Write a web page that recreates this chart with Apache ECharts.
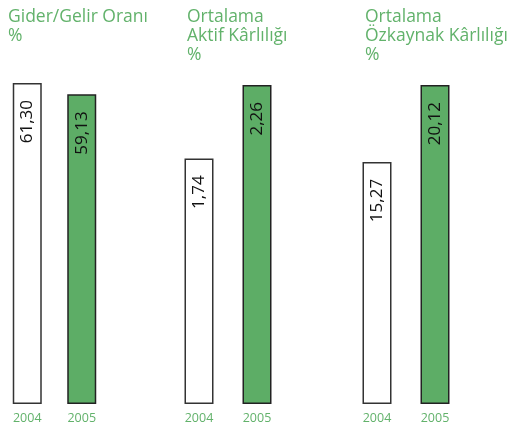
<!DOCTYPE html>
<html><head><meta charset="utf-8">
<script src="https://cdn.jsdelivr.net/npm/echarts@6/dist/echarts.min.js"></script>
<style>html,body{margin:0;padding:0;background:#fff}#c{width:526px;height:439px}</style>
</head><body><div id="c"></div>
<script>
const years = ['2004', '2005'];
const titles = ['Gider/Gelir Oranı\n%', 'Ortalama\nAktif Kârlılığı\n%', 'Ortalama\nÖzkaynak Kârlılığı\n%'];
const giderGelir = [61.30, 59.13];
const aktifKarlilik = [1.74, 2.26];
const ozkaynakKarlilik = [15.27, 20.12];
const panels = [giderGelir, aktifKarlilik, ozkaynakKarlilik];

const GREEN = '#5dad66';
const TEXTGREEN = '#62b26b';
const FONT = '"Open Sans", "Noto Sans", sans-serif';
const gridLefts = [-7, 170, 348];
const gridTops = [83, 85, 85];
const titleX = [8, 187, 365];

const grids = [], xAxes = [], yAxes = [], series = [], graphics = [];
panels.forEach((vals, i) => {
  grids.push({left: gridLefts[i], width: 116, top: gridTops[i], bottom: 35, containLabel: false});
  xAxes.push({type: 'category', gridIndex: i, data: years,
    axisLine: {show: false}, axisTick: {show: false},
    axisLabel: {color: TEXTGREEN, fontSize: 12.5, fontFamily: FONT, margin: 8}});
  yAxes.push({type: 'value', gridIndex: i, min: 0, max: Math.max(...vals), show: false, splitLine: {show: false}});
  series.push({type: 'bar', xAxisIndex: i, yAxisIndex: i, barWidth: 29,
    data: vals.map((v, j) => ({value: v, itemStyle: j === 0
      ? {color: '#ffffff', borderColor: '#333', borderWidth: 1.5}
      : {color: GREEN, borderColor: '#222', borderWidth: 1.5}})),
    label: {show: true, position: 'insideTop', rotate: 90, align: 'right', verticalAlign: 'middle',
      distance: 17, color: '#111', fontSize: 17, fontFamily: FONT,
      formatter: p => p.value.toFixed(2).replace('.', ',')},
    animation: false});
  graphics.push({type: 'text', left: titleX[i], top: 8,
    style: {text: titles[i], fill: TEXTGREEN, font: '17.5px ' + FONT, lineHeight: 19}});
});

const chart = echarts.init(document.getElementById('c'));
chart.setOption({animation: false, grid: grids, xAxis: xAxes, yAxis: yAxes, series, graphic: graphics});
</script></body></html>
